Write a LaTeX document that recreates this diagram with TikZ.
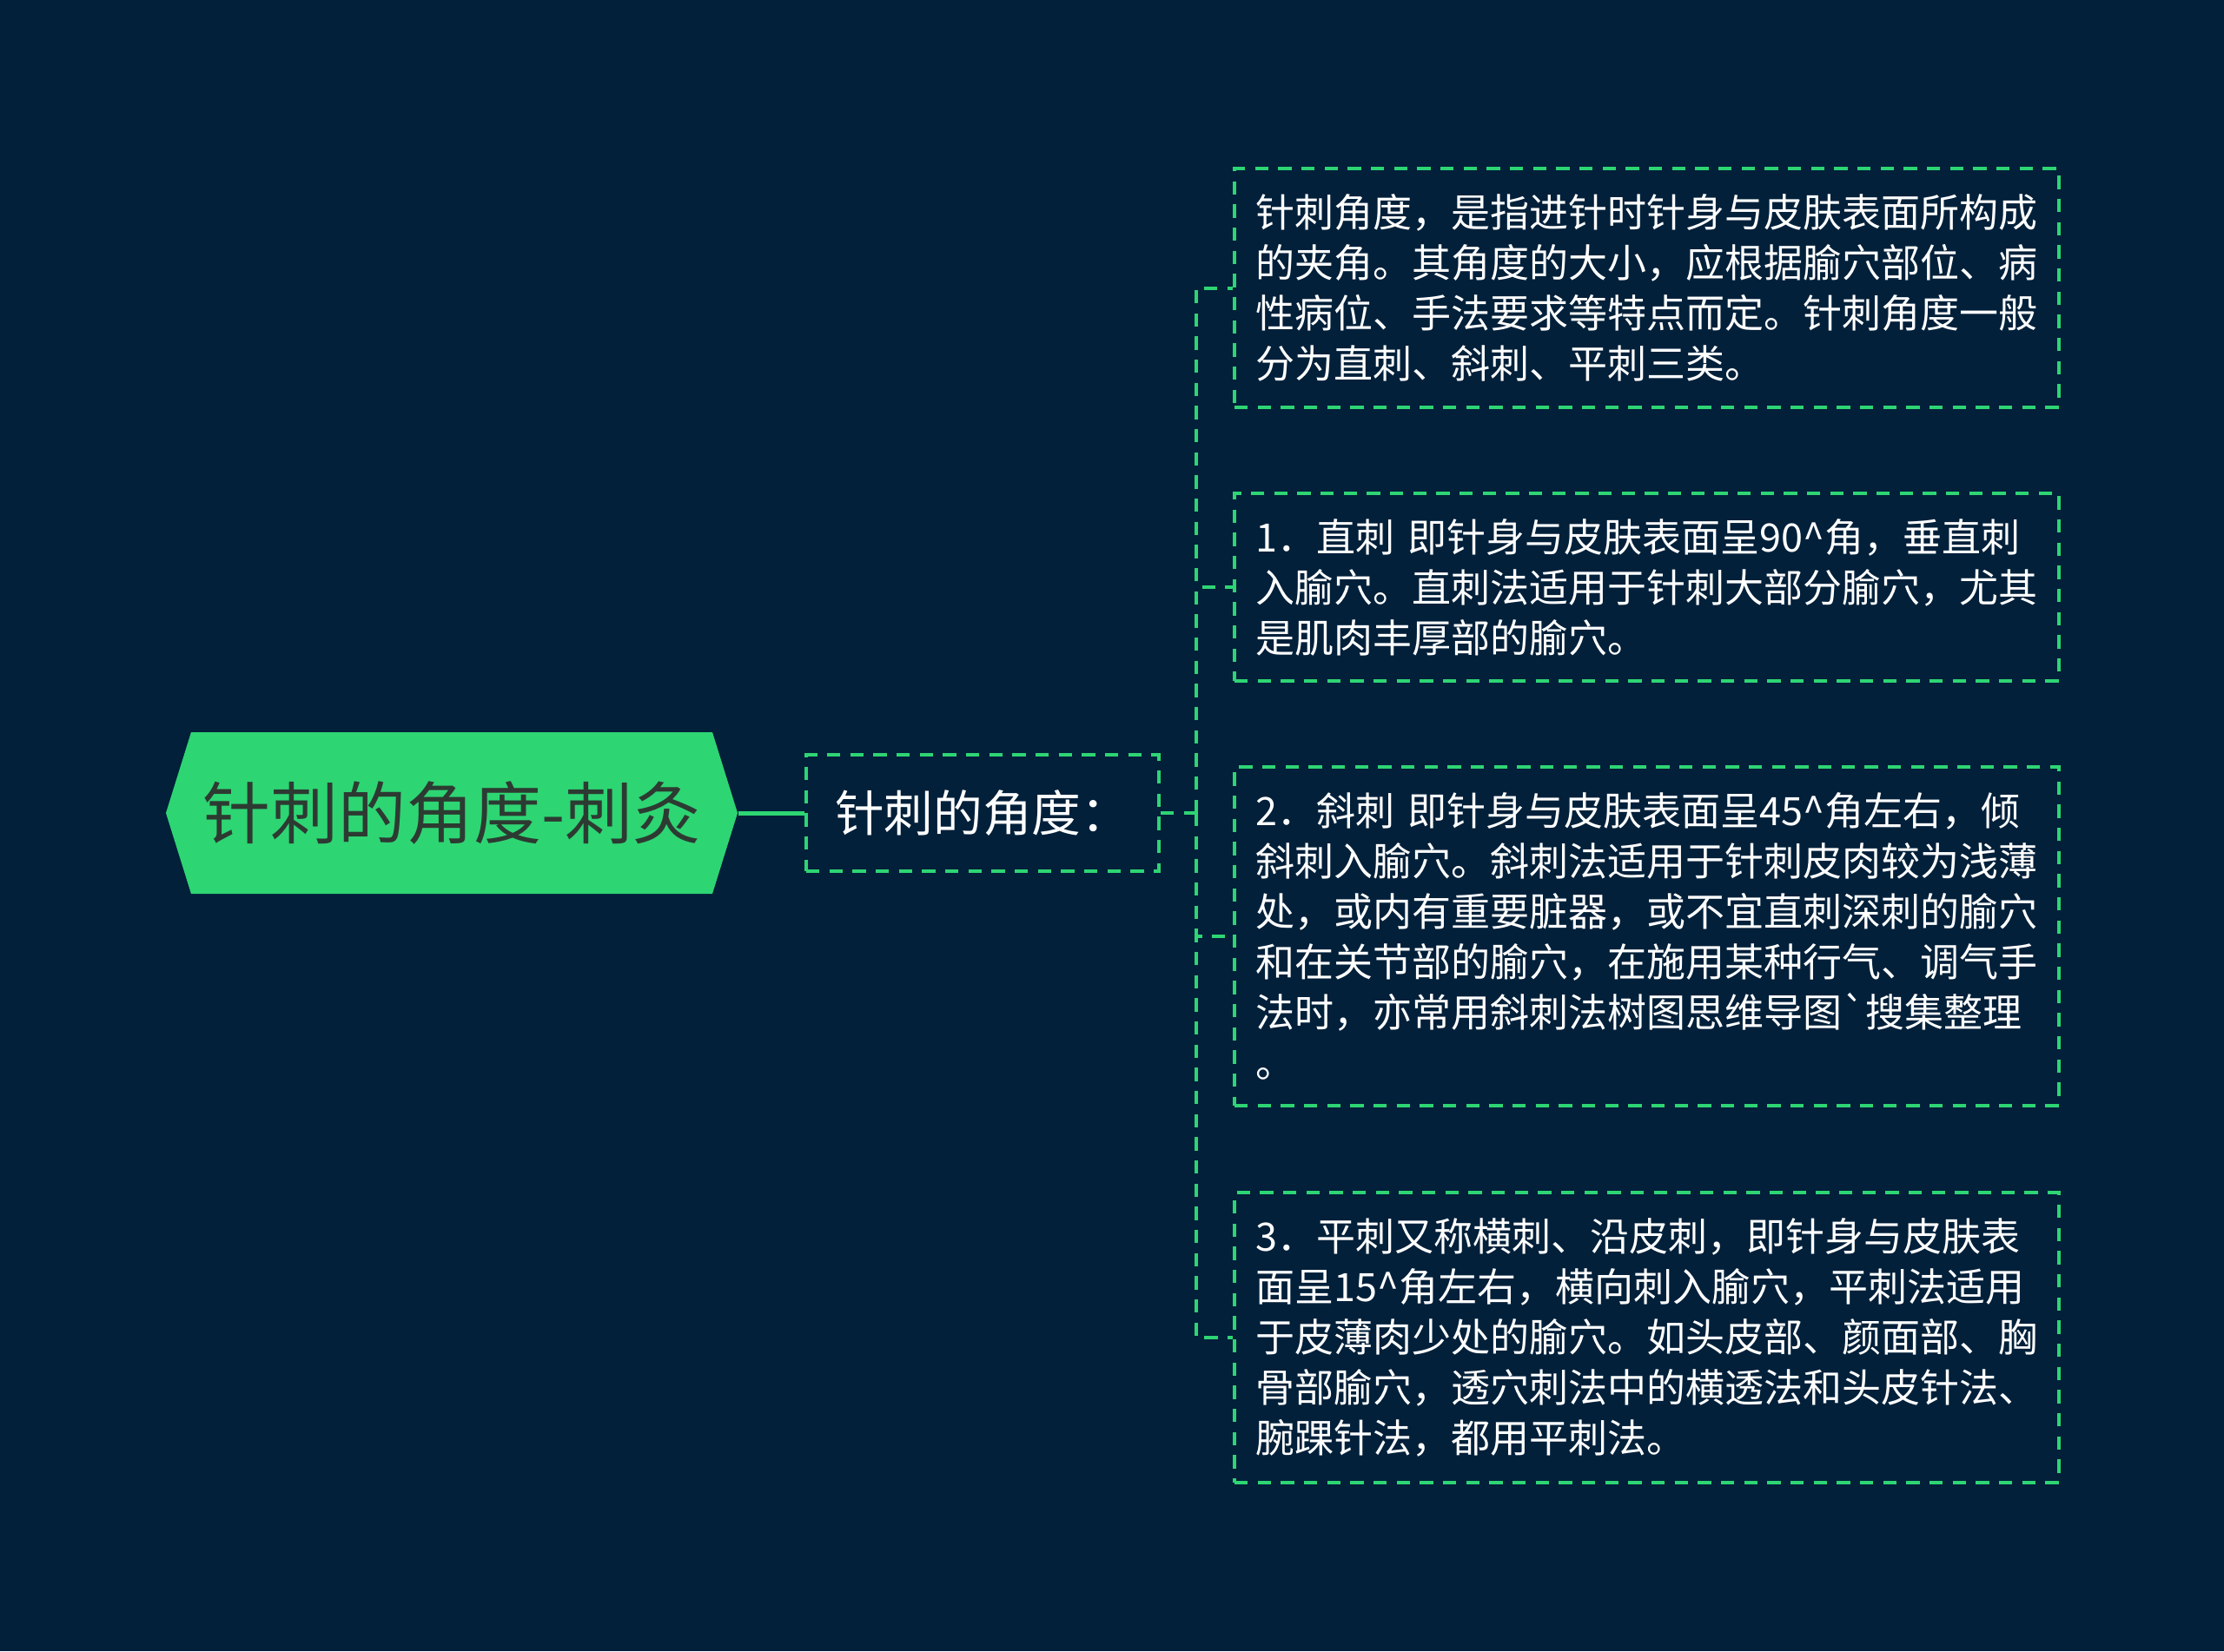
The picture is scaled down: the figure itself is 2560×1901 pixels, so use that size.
\documentclass[tikz,border=0pt]{standalone}
\usepackage{fontspec}
\newfontfamily\cjk{Noto Sans CJK SC}
\usepackage{tikz}

\definecolor{bgnavy}{RGB}{2,32,58}
\definecolor{mapgreen}{RGB}{46,213,115}
\definecolor{rootink}{RGB}{45,58,50}

\tikzset{
  rootbox/.style={minimum width=197.4pt, minimum height=55.8pt, inner sep=0pt, fill=bgnavy,
    text=rootink, font=\cjk\fontsize{23.4pt}{28pt}\selectfont,
    path picture={\fill[mapgreen] (path picture bounding box.west)
      -- ([xshift=8.7pt]path picture bounding box.north west)
      -- ([xshift=-8.7pt]path picture bounding box.north east)
      -- (path picture bounding box.east)
      -- ([xshift=-8.7pt]path picture bounding box.south east)
      -- ([xshift=8.7pt]path picture bounding box.south west) -- cycle;}},
  greendash/.style={draw=mapgreen, line width=1.2pt, dash pattern=on 4.6pt off 3.4pt},
  subbox/.style={greendash, minimum width=121.8pt, minimum height=40.2pt, inner sep=0pt,
    text=white, font=\cjk\fontsize{17pt}{20pt}\selectfont},
  leafbox/.style={greendash, anchor=west, text width=270pt, inner xsep=7.35pt, inner ysep=8.8pt,
    align=left, text=white, font=\cjk\fontsize{13.5pt}{17.4pt}\selectfont},
  rootlink/.style={draw=mapgreen, line width=1.5pt},
}

\begin{document}
\begin{tikzpicture}[x=0.3pt,y=-0.3pt]
  \fill[bgnavy] (0,0) rectangle (2560,1901);

  \node[rootbox] (root) at (520,936) {针刺的角度-刺灸};
  \node[subbox] (angle) at (1131,936) {针刺的角度：};

  \node[leafbox] (leaf1) at (1419,331.5) {针刺角度，是指进针时针身与皮肤表面所构成\\的夹角。其角度的大小，应根据腧穴部位、病\\性病位、手法要求等特点而定。针刺角度一般\\分为直刺、斜刺、平刺三类。};
  \node[leafbox] (leaf2) at (1419,676) {1．直刺 即针身与皮肤表面呈90\textasciicircum 角，垂直刺\\入腧穴。直刺法适用于针刺大部分腧穴，尤其\\是肌肉丰厚部的腧穴。};
  \node[leafbox] (leaf3) at (1419,1078) {2．斜刺 即针身与皮肤表面呈45\textasciicircum 角左右，倾\\斜刺入腧穴。斜刺法适用于针刺皮肉较为浅薄\\处，或内有重要脏器，或不宜直刺深刺的腧穴\\和在关节部的腧穴，在施用某种行气、调气手\\法时，亦常用斜刺法树图思维导图\textasciigrave 搜集整理\\。};
  \node[leafbox] (leaf4) at (1419,1540) {3．平刺又称横刺、沿皮刺，即针身与皮肤表\\面呈15\textasciicircum 角左右，横向刺入腧穴，平刺法适用\\于皮薄肉少处的腧穴。如头皮部、颜面部、胸\\骨部腧穴，透穴刺法中的横透法和头皮针法、\\腕踝针法，都用平刺法。};

  % links
  \draw[rootlink] (root.east) -- (angle.west);
  \coordinate (fork) at (1377,936);
  \draw[greendash] (angle.east) -- (fork);
  \foreach \n in {1,...,4}
    \draw[greendash] (fork) |- (leaf\n.west);
\end{tikzpicture}
\end{document}
